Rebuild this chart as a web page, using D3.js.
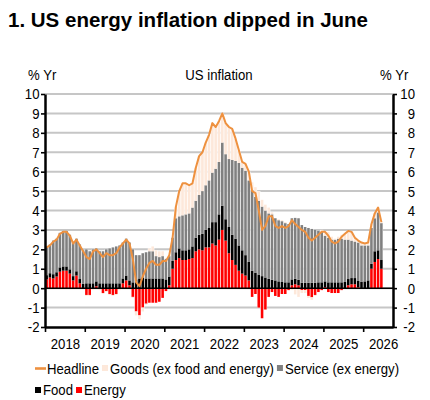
<!DOCTYPE html>
<html>
<head>
<meta charset="utf-8">
<script src="https://cdn.jsdelivr.net/npm/d3@7"></script>
<style>
    body { margin: 0; background: #fff; }
    text { font-family: "Liberation Sans", Arial, sans-serif; fill: #000; }
</style>
</head>
<body>
<div id="container"></div>
<script>
// monthly, Jan 2018 .. Jun 2026, contributions in pp
const years = ["2018", "2019", "2020", "2021", "2022", "2023", "2024", "2025", "2026"];
const yTicks = [-2, -1, 0, 1, 2, 3, 4, 5, 6, 7, 8, 9, 10];

const headline = [
    2.1, 2.2, 2.4, 2.5, 2.8, 2.9, 2.9, 2.7, 2.3, 2.5, 2.2, 1.9,
    1.6, 1.5, 1.9, 2.0, 1.8, 1.6, 1.8, 1.7, 1.7, 1.8, 2.1, 2.3,
    2.5, 2.3, 1.5, 0.3, 0.1, 0.6, 1.0, 1.3, 1.4, 1.2, 1.2, 1.4,
    1.4, 1.7, 2.6, 4.2, 5.0, 5.4, 5.4, 5.3, 5.4, 6.2, 6.8, 7.0,
    7.5, 7.9, 8.5, 8.3, 8.6, 9.0, 8.5, 8.3, 8.2, 7.7, 7.1, 6.5,
    6.4, 6.0, 5.0, 4.9, 4.0, 3.0, 3.2, 3.7, 3.7, 3.2, 3.1, 3.2,
    3.1, 3.2, 3.5, 3.3, 3.15, 3.0, 2.9, 2.6, 2.45, 2.6, 2.75, 2.9,
    2.9, 2.7, 2.4, 2.3, 2.4, 2.65, 2.8, 2.95, 2.9, 2.6, 2.45, 2.35,
    2.3, 2.35, 3.3, 3.85, 4.15, 3.4
];

const energy = [
    0.45, 0.55, 0.5, 0.6, 0.85, 0.9, 0.9, 0.75, 0.4, 0.65, 0.25, 0.0,
    -0.35, -0.35, -0.05, 0.1, -0.05, -0.25, -0.15, -0.3, -0.35, -0.3, -0.05, 0.25,
    0.4, 0.15, -0.45, -1.2, -1.4, -1.0, -0.8, -0.75, -0.75, -0.75, -0.7, -0.5,
    -0.15, 0.15, 1.0, 1.45, 1.55, 1.45, 1.45, 1.5, 1.55, 1.9, 2.0, 1.95,
    2.1, 2.1, 2.3, 2.2, 2.5, 3.0, 2.45, 1.8, 1.45, 1.2, 0.9, 0.75,
    0.65, 0.4, -0.45, -0.3, -1.0, -1.55, -1.1, -0.45, -0.2, -0.4, -0.45, -0.3,
    -0.3, -0.1, 0.15, 0.2, 0.15, -0.1, -0.1, -0.4, -0.47, -0.35, -0.2, -0.1,
    0.05, -0.2, -0.25, -0.25, -0.25, -0.1, 0.0, 0.15, 0.2, 0.2, 0.05, 0.0,
    0.0, 0.0, 1.0, 1.35, 1.5, 1.0
];

const food = [
    0.22, 0.22, 0.22, 0.22, 0.22, 0.22, 0.22, 0.22, 0.22, 0.22, 0.22, 0.22,
    0.25, 0.25, 0.25, 0.25, 0.25, 0.25, 0.25, 0.25, 0.25, 0.25, 0.25, 0.25,
    0.25, 0.25, 0.3, 0.45, 0.5, 0.55, 0.5, 0.5, 0.5, 0.5, 0.5, 0.5,
    0.45, 0.45, 0.4, 0.4, 0.5, 0.5, 0.5, 0.5, 0.6, 0.7, 0.75, 0.85,
    0.9, 1.0, 1.1, 1.2, 1.3, 1.25, 1.1, 1.35, 1.3, 1.35, 1.3, 1.2,
    1.05, 0.95, 0.9, 0.8, 0.7, 0.62, 0.55, 0.48, 0.43, 0.4, 0.35, 0.32,
    0.3, 0.3, 0.3, 0.28, 0.28, 0.28, 0.28, 0.28, 0.28, 0.28, 0.3, 0.3,
    0.3, 0.3, 0.3, 0.3, 0.3, 0.3, 0.32, 0.32, 0.32, 0.32, 0.32, 0.32,
    0.35, 0.4, 0.25, 0.55, 0.45, 0.45
];

const services = [
    1.48, 1.48, 1.73, 1.73, 1.78, 1.83, 1.83, 1.78, 1.73, 1.68, 1.78, 1.73,
    1.75, 1.65, 1.75, 1.7, 1.65, 1.65, 1.75, 1.8, 1.85, 1.9, 1.95, 1.85,
    1.9, 1.95, 1.7, 1.25, 1.2, 1.25, 1.35, 1.4, 1.4, 1.15, 1.1, 1.15,
    1.05, 1.05, 1.2, 1.75, 1.65, 1.8, 1.85, 1.85, 2.0, 1.9, 2.05, 2.2,
    2.3, 2.45, 2.55, 2.75, 2.7, 3.25, 3.35, 3.5, 3.85, 4.0, 4.25, 4.25,
    4.35, 4.2, 4.15, 3.9, 3.8, 3.58, 3.45, 3.37, 3.37, 3.2, 3.15, 3.13,
    3.05, 3.0, 3.15, 3.14, 3.17, 2.97, 2.87, 2.82, 2.77, 2.72, 2.65, 2.6,
    2.35, 2.3, 2.2, 2.2, 2.25, 2.25, 2.18, 2.03, 1.93, 1.88, 1.98, 1.88,
    1.85, 1.8, 1.85, 1.7, 1.95, 1.9
];

const goods = [
    -0.05, -0.05, -0.05, -0.05, -0.05, -0.05, -0.05, -0.05, -0.05, -0.05, -0.05, -0.05,
    -0.05, -0.05, -0.05, -0.05, -0.05, -0.05, -0.05, -0.05, -0.05, -0.05, -0.05, -0.05,
    -0.05, -0.05, -0.05, -0.2, -0.2, -0.2, -0.05, 0.15, 0.25, 0.3, 0.3, 0.25,
    0.05, 0.05, 0.0, 0.6, 1.3, 1.65, 1.6, 1.45, 1.25, 1.7, 2.0, 2.0,
    2.2, 2.35, 2.55, 2.15, 2.1, 1.5, 1.6, 1.65, 1.6, 1.15, 0.65, 0.3,
    0.35, 0.45, 0.4, 0.5, 0.5, 0.35, 0.3, 0.3, 0.1, 0.0, 0.05, 0.05,
    0.05, 0.0, -0.1, -0.32, -0.45, -0.15, -0.15, -0.1, -0.13, -0.05, 0.0, 0.1,
    0.2, 0.3, 0.15, 0.05, 0.1, 0.2, 0.3, 0.45, 0.45, 0.2, 0.1, 0.15,
    0.1, 0.15, 0.2, 0.25, 0.25, 0.05
];

const keys = ["energy", "food", "services", "goods"];
const names = {
    "headline": "Headline",
    "goods": "Goods (ex food and energy)",
    "services": "Service (ex energy)",
    "food": "Food",
    "energy": "Energy"
};
const colors = {
    "headline": "#ee913f",
    "goods": "#fde8da",
    "services": "#808080",
    "food": "#000000",
    "energy": "#ff0000"
};

const W = 430, H = 400;
const SX = 0.85, FS = 15.5;   // the source font is a narrow sans

const svg = d3.select('#container')
    .append('svg')
        .attr('width', W)
        .attr('height', H);

svg.append('rect').attr('width', W).attr('height', H).attr('fill', '#fff');

var x = d3.scaleLinear().domain([0, 105]).range([45, 393]),
    y = d3.scaleLinear().domain([-2, 10]).range([327, 94]);

function label(g, px, py, str, anchor) {
    return g.append('text')
        .attr('transform', `translate(${px},${py}) scale(${SX},1)`)
        .attr('text-anchor', anchor || 'start')
        .attr('font-size', FS)
        .text(str);
}

function narrowTicks(g) {
    g.attr('font-family', null).attr('font-size', null);
    g.selectAll('.tick text').each(function() {
        var t = d3.select(this);
        t.attr('x', (+t.attr('x') || 0) / SX)
         .attr('transform', `scale(${SX},1)`)
         .attr('font-size', FS);
    });
}

// title + headers
svg.append('text')
    .attr('x', 8).attr('y', 27)
    .attr('font-size', 19.5)
    .attr('font-weight', 'bold')
    .attr('textLength', 360)
    .attr('lengthAdjust', 'spacingAndGlyphs')
    .text("1. US energy inflation dipped in June");

label(svg, 28, 80, "% Yr");
label(svg, 219, 80, "US inflation", 'middle');
label(svg, 380, 80, "% Yr");

// grid
svg.append('g').selectAll('line')
    .data(yTicks.filter(v => v > -2))
    .join('line')
        .attr('x1', x(0)).attr('x2', x(105))
        .attr('y1', d => y(d)).attr('y2', d => y(d))
        .attr('stroke', '#c6c6c6')
        .attr('stroke-width', 2);

// bars
var rows = headline.map((h, i) => ({
    i: i, energy: energy[i], food: food[i], services: services[i], goods: goods[i]
}));
var stacked = d3.stack().keys(keys).offset(d3.stackOffsetDiverging)(rows);
var bw = x(1) - x(0);

// white backing so the gaps between columns stay white over the grid
svg.append('g').selectAll('rect')
    .data(rows)
    .join('rect')
        .attr('x', d => x(d.i))
        .attr('width', bw)
        .attr('y', (d, i) => y(d3.max(stacked, s => s[i][1])))
        .attr('height', (d, i) => y(d3.min(stacked, s => s[i][0])) - y(d3.max(stacked, s => s[i][1])))
        .attr('fill', '#fff');

svg.append('g').selectAll('g')
    .data(stacked)
    .join('g')
        .attr('fill', s => colors[s.key])
    .selectAll('rect')
    .data(s => s)
    .join('rect')
        .attr('x', d => x(d.data.i) + 0.35)
        .attr('width', bw - 0.75)
        .attr('y', d => y(Math.max(d[0], d[1])))
        .attr('height', d => Math.abs(y(d[0]) - y(d[1])));

// zero line
svg.append('line')
    .attr('x1', x(0)).attr('x2', x(105))
    .attr('y1', y(0)).attr('y2', y(0))
    .attr('stroke', '#000')
    .attr('stroke-width', 1.5);

// headline
svg.append('path')
    .datum(headline)
    .attr('fill', 'none')
    .attr('stroke', colors.headline)
    .attr('stroke-width', 2)
    .attr('stroke-linejoin', 'round')
    .attr('d', d3.line().x((d, i) => x(i + 0.5)).y(d => y(d)));

// axes
var fmt = d => String(d);

var gl = svg.append('g')
    .attr('transform', `translate(${x(0)},0)`)
    .call(d3.axisLeft(y).tickValues(yTicks).tickFormat(fmt).tickSize(4).tickPadding(1.5).tickSizeOuter(0));
narrowTicks(gl);

var gr = svg.append('g')
    .attr('transform', `translate(${x(105)},0)`)
    .call(d3.axisRight(y).tickValues(yTicks).tickFormat(fmt).tickSize(4).tickSizeOuter(0));
gr.selectAll('.tick text').attr('text-anchor', 'end').attr('x', 22);
narrowTicks(gr);

var gb = svg.append('g')
    .attr('transform', `translate(0,${y(-2)})`)
    .call(d3.axisBottom(x).tickValues(d3.range(0, 97, 12)).tickFormat('').tickSize(5).tickSizeOuter(0));

var gy = svg.append('g')
    .attr('transform', `translate(0,${y(-2)})`)
    .call(d3.axisBottom(x).tickValues(d3.range(6, 103, 12)).tickFormat((d, i) => years[i]).tickSize(0).tickPadding(11));
gy.select('.domain').remove();
narrowTicks(gy);

[gl, gr, gb].forEach(g => {
    g.select('.domain').attr('stroke', '#000').attr('stroke-width', 2.5);
    g.selectAll('.tick line').attr('stroke', '#000').attr('stroke-width', 1.6);
});

// legend
const legend = svg.append('g');
var lx = 35;
legend.append('line')
    .attr('x1', lx).attr('x2', lx + 11)
    .attr('y1', 368.5).attr('y2', 368.5)
    .attr('stroke', colors.headline)
    .attr('stroke-width', 2.6);
var t = label(legend, lx + 12, 374, names.headline);
lx = lx + 12 + t.node().getComputedTextLength() * SX + 3;

[["goods", 374, 365], ["services", 374, 365], ["food", 395, 387], ["energy", 395, 387]].forEach(function(it, k) {
    if (k === 2) lx = 35;
    legend.append('rect')
        .attr('x', lx).attr('y', it[2])
        .attr('width', 6).attr('height', 6)
        .attr('fill', colors[it[0]]);
    var tt = label(legend, lx + 8, it[1], names[it[0]]);
    lx = lx + 8 + tt.node().getComputedTextLength() * SX + 3;
});
</script>
</body>
</html>
